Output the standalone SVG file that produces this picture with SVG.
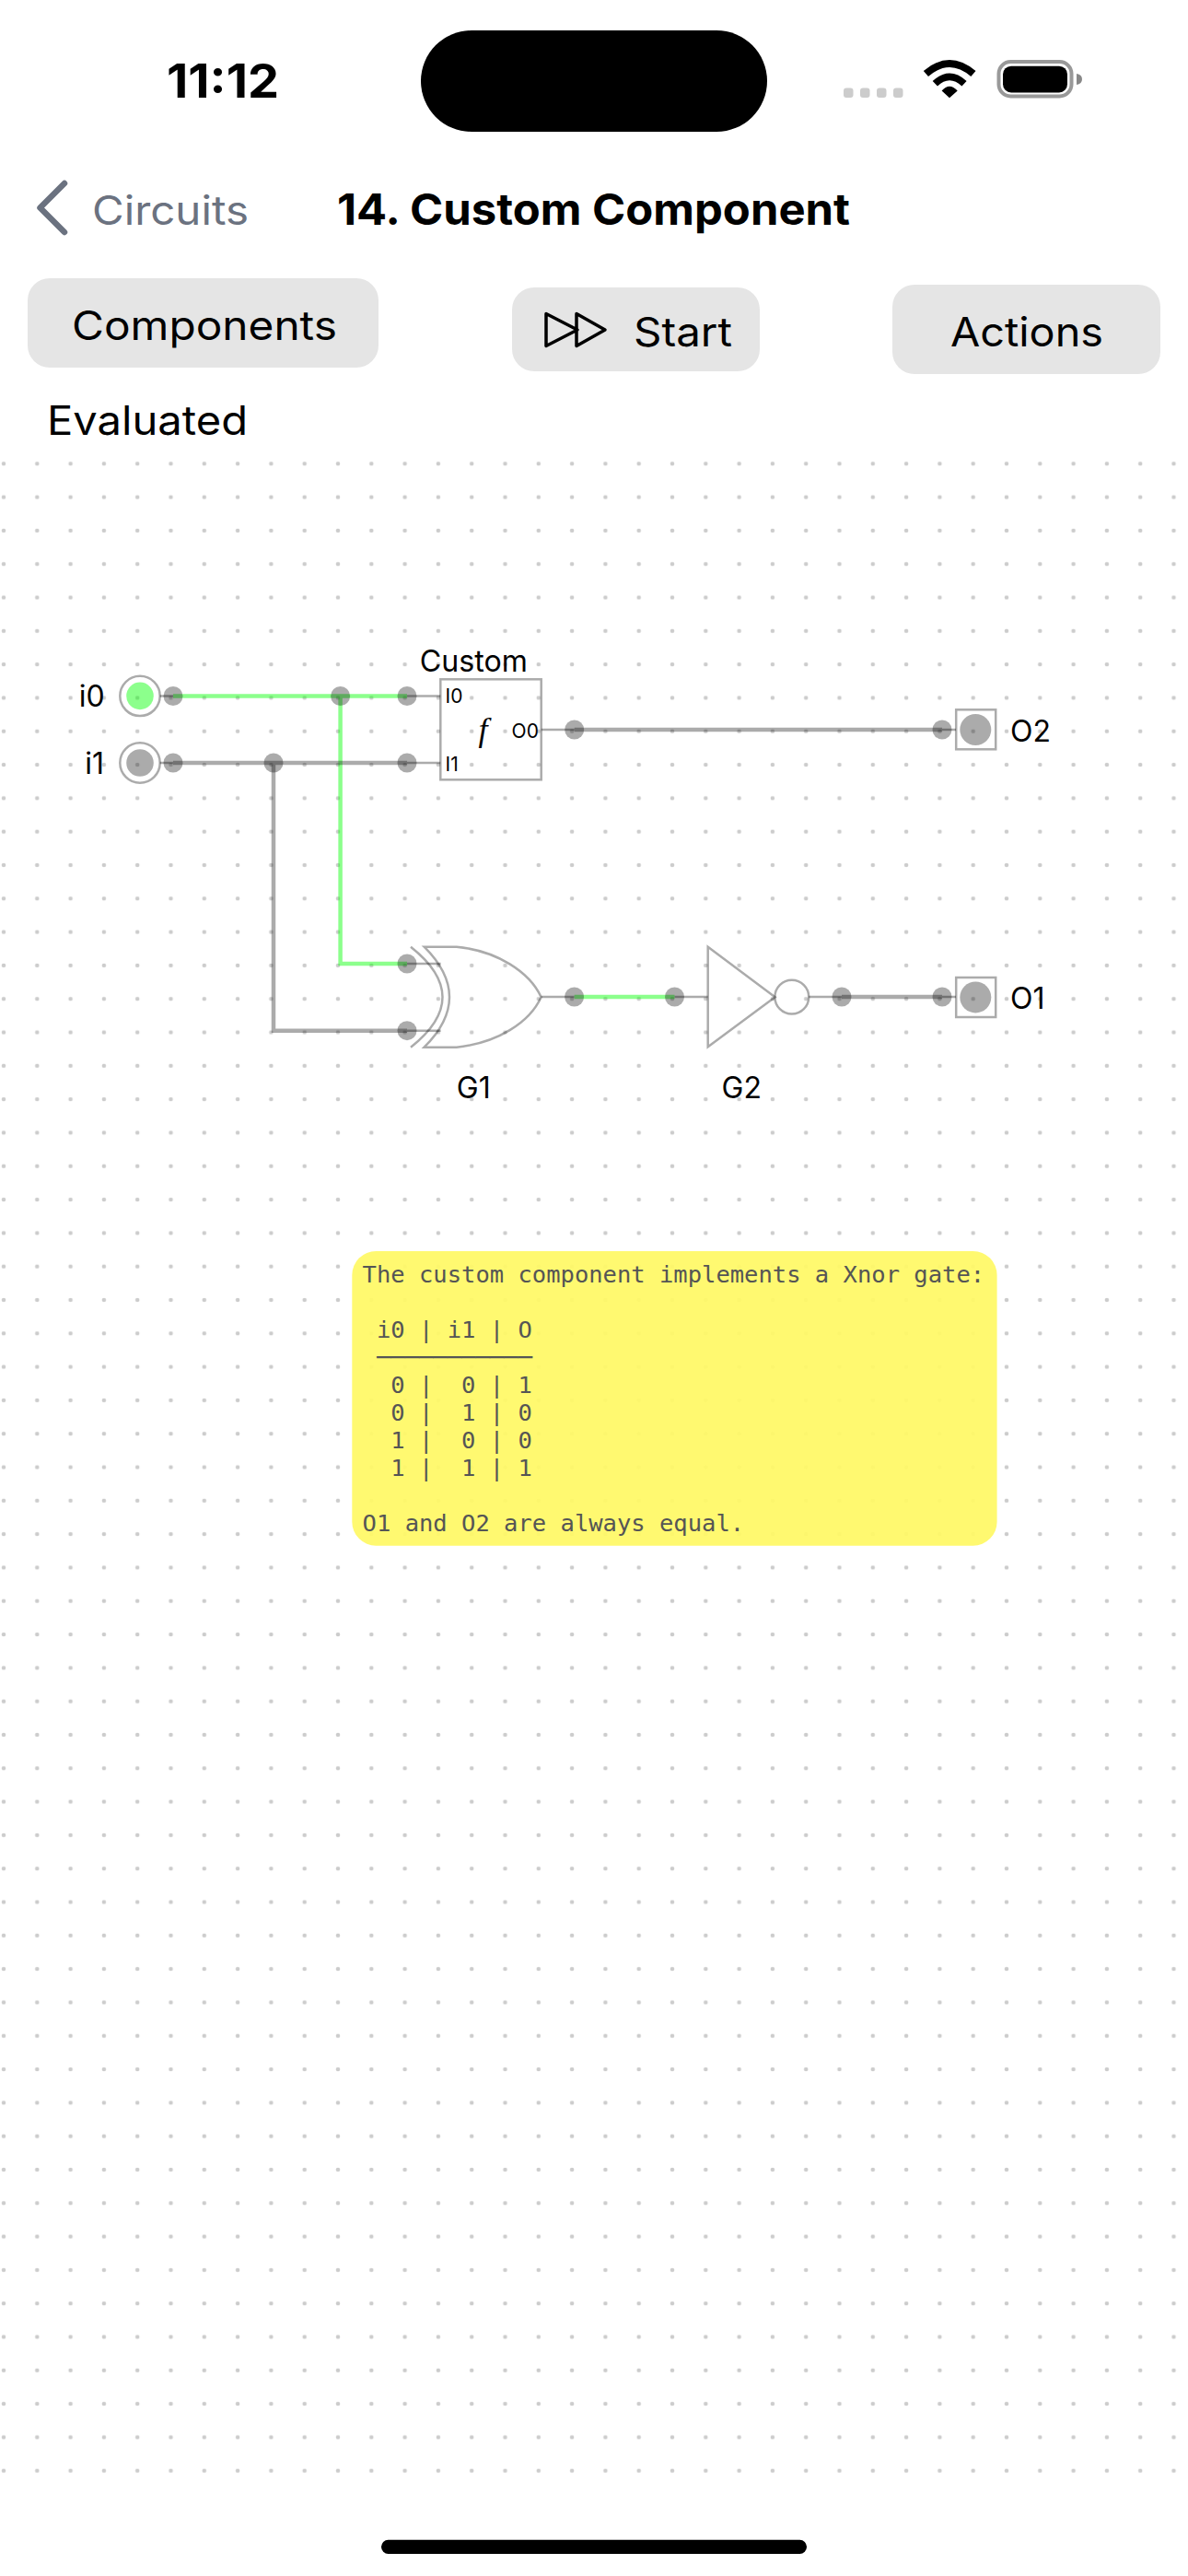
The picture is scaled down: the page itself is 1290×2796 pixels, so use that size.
<svg xmlns="http://www.w3.org/2000/svg" width="1290" height="2796" viewBox="0 0 1290 2796">
<defs>
<pattern id="grid" x="4" y="503.3" width="36.3" height="36.307" patternUnits="userSpaceOnUse">
<circle cx="0" cy="0" r="2.3" fill="#ccc"/><circle cx="36.3" cy="0" r="2.3" fill="#ccc"/><circle cx="0" cy="36.307" r="2.3" fill="#ccc"/><circle cx="36.3" cy="36.307" r="2.3" fill="#ccc"/>
</pattern>
</defs>
<style>
text{font-family:Inter,"Liberation Sans",sans-serif;fill:#000}
.btn{fill:#e5e5e5}
.ui{font-size:44px}
.lbl{font-size:32px}
.pt{font-size:21px}
.note{font-family:"DejaVu Sans Mono",monospace;font-size:25.5px;fill:#555;white-space:pre}
.outline{fill:none;stroke:#000;stroke-opacity:.33;stroke-width:2.5}
.thin{fill:none;stroke:#000;stroke-opacity:.33;stroke-width:2.5}
.off{fill:none;stroke:#000;stroke-opacity:.33;stroke-width:4.5}
.on{fill:none;stroke:#0f0;stroke-opacity:.45;stroke-width:4.5}
.pin{fill:#000;fill-opacity:.33}
.core-off{fill:#000;fill-opacity:.33}
.core-on{fill:#0f0;fill-opacity:.45}
</style>
<rect width="1290" height="2796" fill="#fff"/>
<rect id="dots" x="0" y="500" width="1290" height="2186" fill="url(#grid)"/>

<g id="status-bar">
<text x="181" y="106" font-size="51" font-weight="700" textLength="122" lengthAdjust="spacingAndGlyphs">11:12</text>
<rect x="457" y="33" width="376" height="110" rx="55" fill="#000"/>
<g fill="#ccc"><rect x="916" y="95.5" width="10.5" height="10.5" rx="3"/><rect x="934" y="95.5" width="10.5" height="10.5" rx="3"/><rect x="952" y="95.5" width="10.5" height="10.5" rx="3"/><rect x="970" y="95.5" width="10.5" height="10.5" rx="3"/></g>
<path d="M1002.8 77Q1031 53 1059.5 77L1054.3 83Q1031 63 1008 83Z M1012.7 87.9Q1031 71 1049.6 87.9L1044.4 93.5Q1031 81 1018 93.5Z M1022.6 98.4Q1031 89 1039.7 98.4L1031 106.3Z" fill="#000"/>
<rect x="1084.5" y="67" width="79" height="37.5" rx="13" fill="none" stroke="#999" stroke-width="4"/>
<rect x="1089" y="71.7" width="70" height="28.7" rx="9" fill="#000"/>
<path d="M1169 80Q1175 81 1175 86Q1175 91 1169 92Z" fill="#888"/>
</g>

<g id="nav-bar">
<polyline points="70,199 43.5,225.5 70,252" fill="none" stroke="#6b7280" stroke-width="6.5" stroke-linecap="round" stroke-linejoin="round"/>
<text x="100" y="244" class="ui" style="fill:#6b7280" textLength="170" lengthAdjust="spacingAndGlyphs">Circuits</text>
<text x="366" y="244" font-size="47" font-weight="700" textLength="557" lengthAdjust="spacingAndGlyphs">14. Custom Component</text>
</g>

<g id="btn-components"><rect class="btn" x="30" y="302" width="381" height="97" rx="24"/><text x="78" y="369" class="ui" textLength="288" lengthAdjust="spacingAndGlyphs">Components</text></g>
<g id="btn-start"><rect class="btn" x="556" y="312" width="269" height="91" rx="24"/>
<path d="M593 340.5L627 358L593 375.5Z M626 340.5L657 358L626 375.5Z" fill="none" stroke="#000" stroke-width="3.5" stroke-linejoin="round"/>
<text x="688" y="376" class="ui" textLength="107" lengthAdjust="spacingAndGlyphs">Start</text></g>
<g id="btn-actions"><rect class="btn" x="969" y="309" width="291" height="97" rx="24"/><text x="1032" y="376" class="ui" textLength="166" lengthAdjust="spacingAndGlyphs">Actions</text></g>
<text id="status" x="51" y="472" class="ui" textLength="218" lengthAdjust="spacingAndGlyphs">Evaluated</text>

<g id="connectors">
<path class="thin" d="M173.7 755.5H188M442 755.5H478.3M173.7 828H188M442 828H478.3M587.7 792H623.7M1023 792H1038M442 1046H478.6M442 1118.7H478.6M587.6 1082H623.6M732.5 1082H768.7M878.2 1082H914M1023 1082H1038"/>
<path class="on" d="M188 755.5H442M369.6 755.5V1046H442M623.6 1082H732.5"/>
<path class="off" d="M188 828H442M297 828V1118.7H442M623.7 792H1023M914 1082H1023"/>
</g>

<g id="pins">
<ellipse class="pin" cx="188" cy="755.5" rx="10.5" ry="10.5"/>
<ellipse class="pin" cx="369.6" cy="755.5" rx="10.5" ry="10.5"/>
<ellipse class="pin" cx="442" cy="755.5" rx="10.5" ry="10.5"/>
<ellipse class="pin" cx="188" cy="828" rx="10.5" ry="10.5"/>
<ellipse class="pin" cx="297" cy="828" rx="10.5" ry="10.5"/>
<ellipse class="pin" cx="442" cy="828" rx="10.5" ry="10.5"/>
<ellipse class="pin" cx="623.7" cy="792" rx="10.5" ry="10.5"/>
<ellipse class="pin" cx="1023" cy="792" rx="10.5" ry="10.5"/>
<ellipse class="pin" cx="442" cy="1046" rx="10.5" ry="10.5"/>
<ellipse class="pin" cx="442" cy="1118.7" rx="10.5" ry="10.5"/>
<ellipse class="pin" cx="623.6" cy="1082" rx="10.5" ry="10.5"/>
<ellipse class="pin" cx="732.5" cy="1082" rx="10.5" ry="10.5"/>
<ellipse class="pin" cx="914" cy="1082" rx="10.5" ry="10.5"/>
<ellipse class="pin" cx="1023" cy="1082" rx="10.5" ry="10.5"/>
</g>

<g id="i0">
<circle class="outline" cx="152" cy="755.4" r="21.7"/>
<circle class="core-on" cx="152" cy="755.4" r="14.8"/>
<text x="113.6" y="767.3" class="lbl" text-anchor="end">i0</text>
</g>
<g id="i1">
<circle class="outline" cx="152" cy="828" r="21.7"/>
<circle class="core-off" cx="152" cy="828" r="14.8"/>
<text x="113" y="840" class="lbl" text-anchor="end">i1</text>
</g>
<g id="custom">
<text x="514.3" y="729.3" class="lbl" text-anchor="middle" textLength="117" lengthAdjust="spacingAndGlyphs">Custom</text>
<rect class="outline" x="478.3" y="737.3" width="109.4" height="109"/>
<text x="483.6" y="763.3" class="pt">I0</text>
<text x="483.6" y="836.7" class="pt">I1</text>
<text x="555.6" y="800.7" class="pt">O0</text>
<text x="524.5" y="804" font-size="36" font-style="italic" text-anchor="middle" style="font-family:'Liberation Serif',serif">f</text>
</g>
<g id="O2">
<rect class="outline" x="1038.2" y="770.3" width="43" height="43"/>
<circle class="core-off" cx="1059.3" cy="792" r="17"/>
<text x="1097" y="805" class="lbl">O2</text>
</g>
<g id="G1">
<path class="outline" d="M446 1027.7Q515 1082.2 446 1136.7"/>
<path class="outline" d="M460.6 1027.7H495.8C540 1032 575 1055 587.6 1082.2C575 1110 540 1132 495.8 1136.7H460.6Q515.4 1082.2 460.6 1027.7Z"/>
<text x="495.8" y="1191.7" class="lbl">G1</text>
</g>
<g id="G2">
<path class="outline" d="M768.7 1027.7L841.6 1082.2L768.7 1136.3Z"/>
<circle class="outline" cx="859.8" cy="1082.2" r="18.4"/>
<text x="783.6" y="1191.7" class="lbl">G2</text>
</g>
<g id="O1">
<rect class="outline" x="1038.2" y="1061" width="43" height="43"/>
<circle class="core-off" cx="1059.3" cy="1082.4" r="17"/>
<text x="1097" y="1095" class="lbl">O1</text>
</g>

<g id="note">
<rect x="382.3" y="1358" width="700.3" height="319.7" rx="26" fill="rgb(255,248.5,101)" fill-opacity=".93"/>
<text class="note" xml:space="preserve" x="393.6" y="1392">The custom component implements a Xnor gate:</text>
<text class="note" xml:space="preserve" x="393.6" y="1452"> i0 | i1 | O</text>
<text class="note" xml:space="preserve" x="393.6" y="1482"> ───────────</text>
<text class="note" xml:space="preserve" x="393.6" y="1512">  0 |  0 | 1</text>
<text class="note" xml:space="preserve" x="393.6" y="1542">  0 |  1 | 0</text>
<text class="note" xml:space="preserve" x="393.6" y="1572">  1 |  0 | 0</text>
<text class="note" xml:space="preserve" x="393.6" y="1602">  1 |  1 | 1</text>
<text class="note" xml:space="preserve" x="393.6" y="1662">O1 and O2 are always equal.</text>
</g>

<rect id="home-indicator" x="414" y="2756.7" width="462" height="15.3" rx="7.6" fill="#000"/>
</svg>
